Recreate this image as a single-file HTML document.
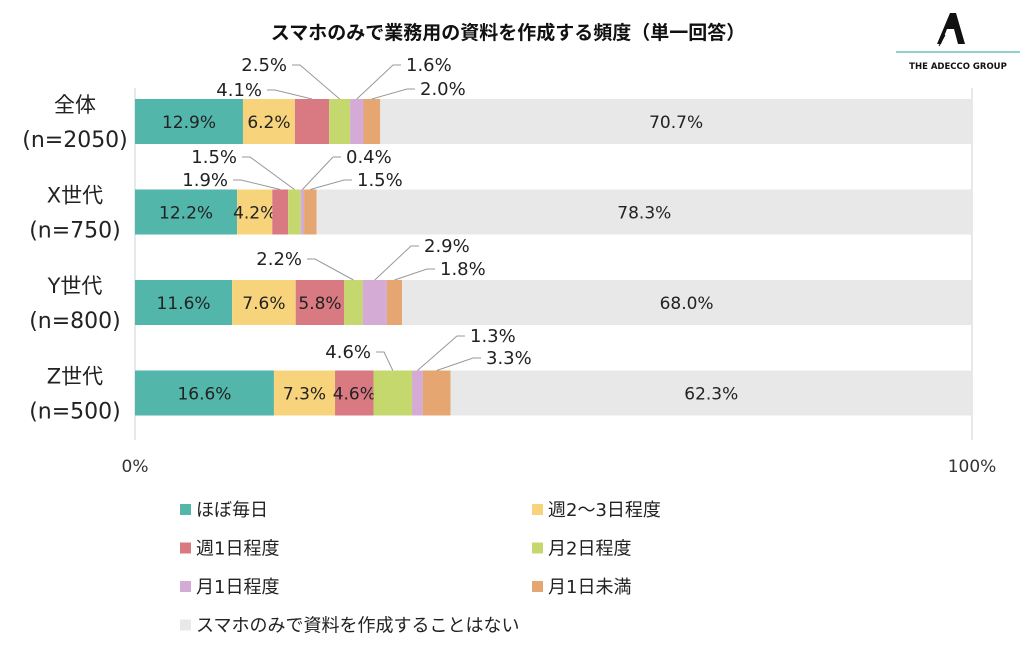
<!DOCTYPE html>
<html><head><meta charset="utf-8"><style>
body{margin:0;background:#fff;}
svg{display:block;font-family:"DejaVu Sans","Noto Sans CJK JP",sans-serif;}
</style></head><body>
<svg id="chart" width="1024" height="655" viewBox="0 0 1024 655">
<text x="508" y="39" text-anchor="middle" font-size="19" font-weight="bold" fill="#111">スマホのみで業務用の資料を作成する頻度（単一回答）</text>
<g>
<path d="M956 13 L950 13 L937 44 L941 44 L947 29 L954 29 L958 44 L965 44 Z" fill="#111"/>
<line x1="945" y1="35" x2="939" y2="46" stroke="#111" stroke-width="1"/>
<line x1="896" y1="52" x2="1020" y2="52" stroke="#8fd0d0" stroke-width="2"/>
<text x="958" y="69" text-anchor="middle" font-size="8.5" font-weight="bold" fill="#111">THE ADECCO GROUP</text>
</g>
<g id="plot"></g>
</svg>
<script>
const categories=["全体","X世代","Y世代","Z世代"];
const sizes=["(n=2050)","(n=750)","(n=800)","(n=500)"];
const seriesNames=["ほぼ毎日","週2～3日程度","週1日程度","月2日程度","月1日程度","月1日未満","スマホのみで資料を作成することはない"];
const daily=[12.9,12.2,11.6,16.6];
const weekly23=[6.2,4.2,7.6,7.3];
const weekly1=[4.1,1.9,5.8,4.6];
const monthly2=[2.5,1.5,2.2,4.6];
const monthly1=[1.6,0.4,2.9,1.3];
const monthlyLess=[2.0,1.5,1.8,3.3];
const never=[70.7,78.3,68.0,62.3];
const xTicks=["0%","100%"];
const series=[daily,weekly23,weekly1,monthly2,monthly1,monthlyLess,never];
const colors=["#52b6ab","#f7d47c","#d97a82","#c5d86e","#d4abd4","#e6a672","#e8e8e8"];
// callout label layout: [row, seriesIndex, labelX, labelY]
const callouts=[[0,2,262,96],[0,3,287,71],[0,4,406,71],[0,5,420,95],
[1,2,228,186],[1,3,237,163],[1,4,346,163],[1,5,357,186],
[2,3,302,265],[2,4,424,252],[2,5,440,275],
[3,3,371,358],[3,4,470,342],[3,5,486,364]];
const X0=135,X1=972;
const x=v=>X0+(X1-X0)*v/100;
const rowTop=i=>99+i*90.5, BH=45;
const NS="http://www.w3.org/2000/svg";
const g=document.getElementById('plot');
function mk(t,a,txt){const e=document.createElementNS(NS,t);for(const k in a)e.setAttribute(k,a[k]);if(txt!=null)e.textContent=txt;g.appendChild(e);return e;}
let ln=mk('line',{x1:X0,y1:88,x2:X0,y2:440,stroke:'#d0d0d0'});


ln=mk('line',{x1:X1,y1:88,x2:X1,y2:440,stroke:'#d0d0d0'});


xTicks.forEach((t,i)=>{const e=mk('text',{x:x(i*100),y:472,'text-anchor':'middle','font-size':17,fill:'#333'},t);

});
const starts=[];
categories.forEach((c,r)=>{
 const y=rowTop(r);
 let e=mk('text',{x:75,y:y+13,'text-anchor':'middle','font-size':21,fill:'#222'},c);
 
 
 e=mk('text',{x:75,y:y+48,'text-anchor':'middle','font-size':22,fill:'#222'},sizes[r]);
 
 
 let acc=0;starts[r]=[];
 series.forEach((s,k)=>{
  const v=s[r];starts[r][k]=acc;
  const b=mk('rect',{x:x(acc),y:y,width:x(acc+v)-x(acc),height:BH,fill:colors[k]});
  
  
  const inside=k<2||k===6||(k===2&&v>=4.5&&r!==0);
  if(inside){const t=mk('text',{x:(x(acc)+x(acc+v))/2,y:y+29,'text-anchor':'middle','font-size':17,fill:'#222'},v.toFixed(1)+'%');
   
   }
  acc+=v;
 });
});
callouts.forEach(([r,k,lx,ly])=>{
 const v=series[k][r];
 const cx=(x(starts[r][k])+x(starts[r][k]+v))/2, ty=rowTop(r);
 const right=lx>cx;
 const t=mk('text',{x:lx,y:ly,'text-anchor':right?'start':'end','font-size':18,fill:'#222'},v.toFixed(1)+'%');
 
 
 const ex=right?lx-5:lx+5, my=ly-6;
 const hx=right?ex-8:ex+8;
 const p=mk('polyline',{points:`${ex},${my} ${hx},${my} ${cx},${ty}`,fill:'none',stroke:'#999','stroke-width':1});
 
 
});
seriesNames.forEach((n,k)=>{
 const col=k<6?k%2:0, row=k<6?Math.floor(k/2):3;
 const lx=col?532:180, ly=510+row*38.5;
 const s=mk('rect',{x:lx,y:ly-6,width:11,height:11,fill:colors[k]});
 
 
 const t=mk('text',{x:lx+16,y:ly+6,'font-size':18,fill:'#222'},n);
 
 
});
</script>
</body></html>
